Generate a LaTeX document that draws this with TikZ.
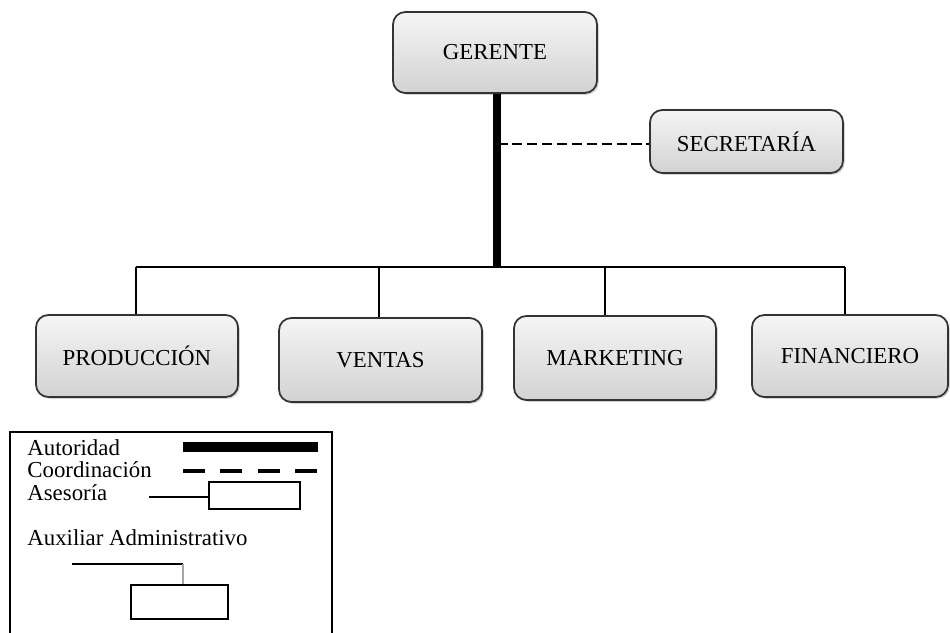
\documentclass[tikz,border=0pt]{standalone}
\usepackage{fontspec}
\setmainfont{Liberation Serif}
\usetikzlibrary{shadows}

\begin{document}
\begin{tikzpicture}
  \tikzset{
    caja/.style={rectangle, rounded corners=7pt, draw=black!80, line width=1pt,
      top color=gray!8, bottom color=gray!35,
      drop shadow={shadow xshift=1pt, shadow yshift=-1pt, opacity=0.35},
      font=\fontsize{13}{13}\selectfont, inner sep=0pt},
    leyenda/.style={anchor=base west, inner sep=0pt, font=\fontsize{13}{13}\selectfont},
    cajita/.style={rectangle, draw, line width=1pt, inner sep=0pt},
    autoridad/.style={line width=4.5pt},
    linea/.style={line width=1.6pt},
    coordinacion/.style={line width=1.6pt, dash pattern=on 6pt off 2.5pt}
  }
  \useasboundingbox (0,0) rectangle (19,-12.64);

  % Puestos del organigrama
  \node[caja, minimum width=4.08cm, minimum height=1.62cm] (gerente) at (9.9,-1.05) {GERENTE};
  \node[caja, minimum width=3.86cm, minimum height=1.26cm] (secretaria) at (14.93,-2.83) {SECRETARÍA};

  \node[caja, minimum width=4.04cm, minimum height=1.64cm] (produccion) at (2.74,-7.12) {PRODUCCIÓN};
  \node[caja, minimum width=4.06cm, minimum height=1.68cm] (ventas) at (7.61,-7.2) {\raisebox{-3pt}{VENTAS}};
  \node[caja, minimum width=4.04cm, minimum height=1.68cm] (marketing) at (12.3,-7.16) {MARKETING};
  \node[caja, minimum width=3.92cm, minimum height=1.64cm] (financiero) at (17.0,-7.12) {FINANCIERO};

  % Puntos de la línea de mando
  \coordinate (bus) at (9.94,-5.34);
  \coordinate (coord) at (9.94,-2.88);
  \coordinate (bus_izq) at (2.72,-5.34);
  \coordinate (bus_der) at (16.9,-5.34);

  % Autoridad (línea gruesa) y coordinación (discontinua)
  \draw[autoridad] ([xshift=0.04cm]gerente.south) -- (bus);
  \draw[coordinacion] (coord) -- (secretaria.west |- coord);

  % Línea horizontal y bajadas a cada departamento
  \draw[linea] (bus_izq) -- (bus_der);
  \draw[linea] (bus_izq) -- (bus_izq |- produccion.north);
  \draw[linea] ([xshift=-0.03cm]ventas.north |- bus) -- ([xshift=-0.03cm]ventas.north);
  \draw[linea] ([xshift=-0.2cm]marketing.north |- bus) -- ([xshift=-0.2cm]marketing.north);
  \draw[linea] (bus_der) -- (bus_der |- financiero.north);

  % Leyenda
  \draw[line width=1pt] (0.2,-8.64) rectangle (6.64,-12.9);

  \node[leyenda] (l_aut) at (0.54,-9.1) {Autoridad};
  \node[leyenda] (l_coord) at (0.54,-9.54) {Coordinación};
  \node[leyenda] (l_ases) at (0.54,-10.0) {Asesoría};
  \node[leyenda] (l_aux) at (0.54,-10.9) {Auxiliar Administrativo};

  \coordinate (aut_a) at (3.66,-8.94);
  \coordinate (aut_b) at (6.36,-8.94);
  \draw[line width=5.5pt] (aut_a) -- (aut_b);

  \coordinate (coord_a) at (3.66,-9.42);
  \coordinate (coord_b) at (6.36,-9.42);
  \draw[line width=1.8pt, dash pattern=on 12.5pt off 8.8pt] (coord_a) -- (coord_b);

  \node[cajita, minimum width=1.82cm, minimum height=0.54cm] (asesor) at (5.09,-9.91) {};
  \coordinate (ases_a) at (2.98,-9.94);
  \draw[line width=0.8pt] (ases_a) -- (ases_a -| asesor.west);

  \node[cajita, minimum width=1.94cm, minimum height=0.68cm] (auxiliar) at (3.59,-12.04) {};
  \coordinate (aux_a) at (1.44,-11.28);
  \coordinate (aux_b) at (3.66,-11.28);
  \draw[line width=0.8pt] (aux_a) -- (aux_b);
  \draw[line width=1.2pt, gray!70] (aux_b) -- (aux_b |- auxiliar.north);
\end{tikzpicture}
\end{document}
